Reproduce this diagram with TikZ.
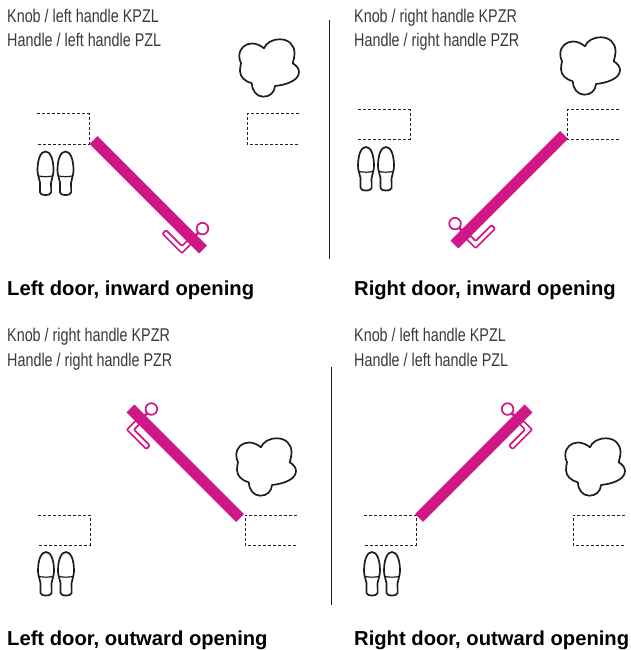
\documentclass[tikz,border=0pt]{standalone}
\usepackage{fontspec}
\setmainfont{Liberation Sans}[FakeStretch=0.78]
\newfontfamily\titlefont{Liberation Sans}[BoldFont=Liberation Sans Bold]
\definecolor{doorpink}{HTML}{CF1788}
\definecolor{inkblack}{HTML}{1E1E1E}
\definecolor{lightink}{HTML}{3A3A3A}
\tikzset{
  lighttext/.style={anchor=base west,inner sep=0pt,text=lightink,font=\fontsize{18.4}{20}\selectfont},
  titletext/.style={anchor=base west,inner sep=0pt,text=black,font=\titlefont\bfseries\fontsize{20.2}{22}\selectfont},
  doorbar/.style={line width=11pt,doorpink},
  hardware/.style={draw=doorpink,line width=1.7pt,line join=round,fill=white},
  outline/.style={draw=inkblack,line width=1.7pt,line join=round},
  frameline/.style={draw=inkblack,line width=1pt,dash pattern=on 3.2pt off 1.8pt},
  divider/.style={draw=inkblack,line width=0.8pt}
}
% #1 hinge; #2 along-door vector; #3 knob-side vector
\newcommand{\doorleaf}[3]{
  \begin{scope}[shift={#1},x={#2},y={#3}]
    \draw[hardware,rounded corners=1pt] (142.5,-4.75) -- (142.5,-17.5) -- (115,-17.5) -- (115,-12.5) -- (137.5,-12.5) -- (137.5,-4.75) -- cycle;
    \draw[hardware,fill=none,line width=2.4pt] (139.7,4.75) -- (139.7,9);
    \draw[hardware] (139.7,14.4) circle[radius=5.8];
    \draw[doorbar] (0,0) -- (155,0);
  \end{scope}
}
\newcommand{\oneshoe}[1]{
  \begin{scope}[shift={#1}]
    \draw[outline] (8,0) .. controls (3,0) and (0,-8) .. (0,-19)
      .. controls (0,-24) and (2,-27) .. (2.5,-31)
      .. controls (2.8,-35) and (2,-38) .. (2.5,-41)
      .. controls (3,-44.5) and (13,-44.5) .. (13.6,-41)
      .. controls (14,-38) and (13.3,-35) .. (13.6,-31)
      .. controls (14,-27) and (16,-24) .. (16,-19)
      .. controls (16,-8) and (13,0) .. (8,0) -- cycle;
    \draw[outline,line width=1.2pt] (1.2,-24.5) .. controls (5,-25.4) and (11,-25.4) .. (14.8,-24.5);
  \end{scope}
}
\newcommand{\shoepair}[1]{
  \begin{scope}[shift={#1}]
    \oneshoe{(0,0)}
    \oneshoe{(20,0)}
  \end{scope}
}
\newcommand{\bush}[1]{
  \begin{scope}[shift={#1}]
    \draw[outline] (25,-9.3) .. controls (27,-4) and (33,-0.3) .. (41,-0.3)
      .. controls (49.5,-0.3) and (55.5,-6) .. (55.5,-14)
      .. controls (55.5,-18) and (54.5,-21) .. (53.7,-24.3)
      .. controls (57.5,-26.5) and (60,-29.5) .. (60,-33)
      .. controls (60,-42) and (46,-46) .. (36,-47)
      .. controls (35.5,-53.5) and (31,-57.7) .. (24.3,-57.7)
      .. controls (17.5,-57.7) and (13,-51.5) .. (12.7,-44.3)
      .. controls (6,-42.5) and (1,-38) .. (1,-32)
      .. controls (1,-29) and (1.5,-27) .. (2,-24.3)
      .. controls (0.8,-22) and (0.3,-19.5) .. (0.3,-17)
      .. controls (0.3,-9.5) and (6,-4.5) .. (13,-4.5)
      .. controls (17.5,-4.5) and (21.5,-6.5) .. (25,-9.3) -- cycle;
  \end{scope}
}
\newcommand{\frameL}[3]{\draw[frameline] (#1,#2) -- ++(52,0) -- ++(0,#3) -- ++(-52,0);}
\newcommand{\frameR}[3]{\draw[frameline] (#1,#2) -- ++(-52,0) -- ++(0,#3) -- ++(52,0);}
\begin{document}
\begin{tikzpicture}[x=1pt,y=1pt]
\useasboundingbox (0,0) rectangle (630,-650);
\fill[white] (0,0) rectangle (630,-650);

\node[lighttext] (a1) at (7,-23) {Knob / left handle KPZL};
\node[lighttext] (a2) at (7,-47) {Handle / left handle PZL};
\node[titletext] (a3) at (7,-295) {Left door, inward opening};
\node[lighttext] (b1) at (354,-23) {Knob / right handle KPZR};
\node[lighttext] (b2) at (354,-47) {Handle / right handle PZR};
\node[titletext] (b3) at (354,-295) {Right door, inward opening};
\node[lighttext] (c1) at (7,-341) {Knob / right handle KPZR};
\node[lighttext] (c2) at (7,-366) {Handle / right handle PZR};
\node[titletext] (c3) at (7,-645) {Left door, outward opening};
\node[lighttext] (d1) at (354,-341) {Knob / left handle KPZL};
\node[lighttext] (d2) at (354,-366) {Handle / left handle PZL};
\node[titletext] (d3) at (354,-645) {Right door, outward opening};

\draw[divider] (329,-20) -- (329,-259);
\draw[divider] (331,-367) -- (331,-605);

\frameL{37}{-114}{-30}\frameR{299}{-114}{-30}
\frameL{358}{-110}{-29}\frameR{619}{-110}{-29}
\frameL{38}{-515}{-30}\frameR{297}{-515}{-30}
\frameL{364}{-515}{-30}\frameR{625}{-515}{-30}

\doorleaf{(93.5,-140)}{(0.7071pt,-0.7071pt)}{(0.7071pt,0.7071pt)}
\doorleaf{(564,-135)}{(-0.7071pt,-0.7071pt)}{(-0.7071pt,0.7071pt)}
\doorleaf{(240,-518)}{(-0.7071pt,0.7071pt)}{(0.7071pt,0.7071pt)}
\doorleaf{(419,-518)}{(0.7071pt,0.7071pt)}{(-0.7071pt,0.7071pt)}

\shoepair{(37.5,-151.5)}
\shoepair{(358,-147)}
\shoepair{(38,-552)}
\shoepair{(364,-552)}

\bush{(239,-39)}
\bush{(560,-37)}
\bush{(236,-438)}
\bush{(565,-438)}
\end{tikzpicture}
\end{document}
